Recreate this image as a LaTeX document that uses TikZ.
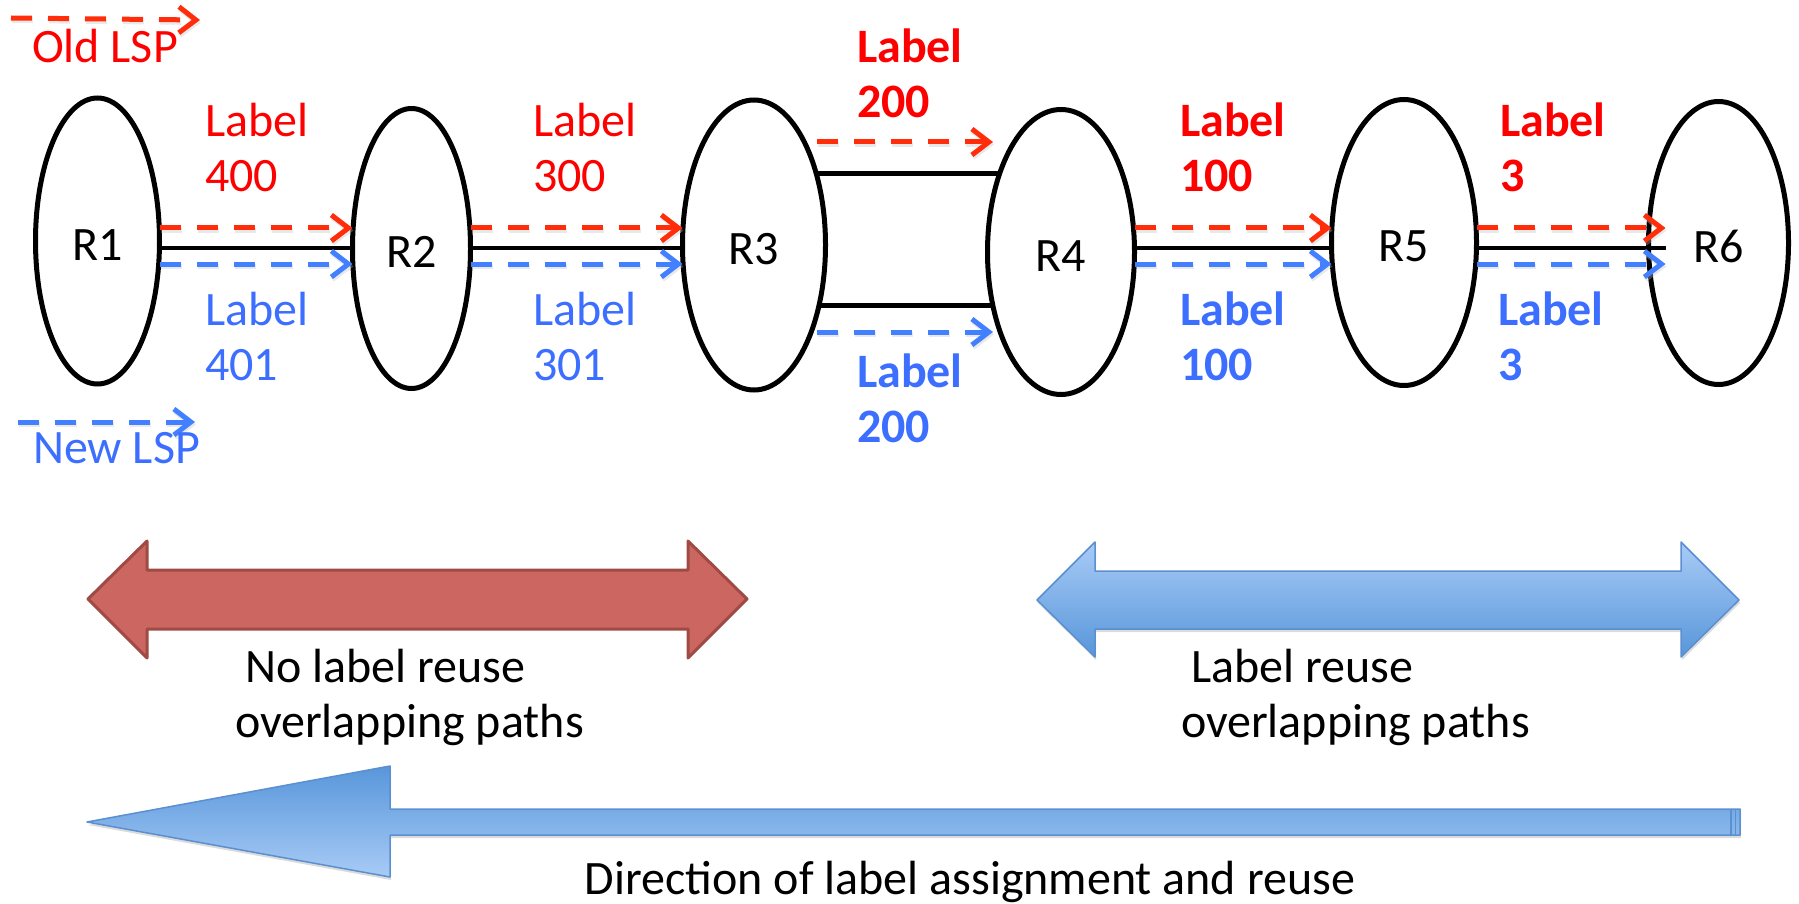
\documentclass[tikz,border=0pt]{standalone}
\usepackage{fontspec}
\setmainfont{Carlito}
\usetikzlibrary{arrows.meta,shapes.geometric,shadows}
\definecolor{dred}{RGB}{255,45,10}
\definecolor{dblue}{RGB}{66,128,255}
\definecolor{tred}{RGB}{255,0,0}
\definecolor{tblue}{RGB}{60,110,255}
\definecolor{arrred}{RGB}{204,102,96}
\definecolor{arrredb}{RGB}{160,74,69}
\definecolor{lightb}{RGB}{168,203,246}
\definecolor{darkb}{RGB}{88,150,218}
\definecolor{bordb}{RGB}{90,143,208}
\newcommand{\twoline}[2]{\begin{tabular}[t]{@{}l@{}}#1\\#2\end{tabular}}
\begin{document}
\begin{tikzpicture}[x=1pt,y=-1pt,
  font=\fontsize{48}{55}\selectfont,
  router/.style={draw, ellipse, line width=5pt, inner sep=0pt, outer sep=0pt, text height=38pt, text depth=0pt},
  lsp/.style={line width=5pt, dash pattern=on 21pt off 16pt, -{Straight Barb[length=17pt,width=26pt]},
     preaction={draw=black!25, opacity=0.35, line width=5pt, dash pattern=on 21pt off 16pt, transform canvas={yshift=-2.5pt, xshift=1pt}}},
  lspred/.style={lsp, draw=dred},
  lspblue/.style={lsp, draw=dblue},
  linkline/.style={draw=black, line width=4.5pt},
  lbl/.style={anchor=base west, inner sep=0pt, outer sep=0pt},
  boldlbl/.style={lbl, font=\fontsize{48}{55}\selectfont\bfseries},
  bigred/.style={fill=arrred, draw=arrredb, line width=3pt, line join=round},
  bigblue/.style={draw=bordb, line width=1.5pt, line join=round,
     drop shadow={shadow xshift=1pt, shadow yshift=-3pt, opacity=0.35, fill=black!40}}]
\useasboundingbox (0,0) rectangle (1799,904);

% routers
\node[router, minimum width=124pt, minimum height=286pt] (R1) at (97.5,241) {R1};
\node[router, minimum width=118pt, minimum height=280pt] (R2) at (411.5,248.5) {R2};
\node[router, minimum width=143pt, minimum height=290pt] (R3) at (754,245) {R3};
\node[router, minimum width=147pt, minimum height=285pt] (R4) at (1061,252) {R4};
\node[router, minimum width=145pt, minimum height=286pt] (R5) at (1404,242.5) {R5};
\node[router, minimum width=140pt, minimum height=283pt] (R6) at (1718.5,243) {R6};

% R1 -> R2
\draw[lspred]  ([yshift=13]R1.east)  -- ([yshift=20.5]R2.west);
\draw[linkline]([yshift=-7]R1.east)  -- ([yshift=0.5]R2.west);
\draw[lspblue] ([yshift=-23]R1.east) -- ([yshift=-15.5]R2.west);
% R2 -> R3
\draw[lspred]  ([yshift=20.5]R2.east)  -- ([yshift=17]R3.west);
\draw[linkline]([yshift=0.5]R2.east)   -- ([yshift=-3]R3.west);
\draw[lspblue] ([yshift=-15.5]R2.east) -- ([yshift=-19]R3.west);
% R3 -> R4
\draw[linkline](R3.49.7)  -- (R3.49.7 -| R4.127.2);
\draw[linkline](R3.-43.2) -- (R3.-43.2 -| R4.218.5);
\draw[lspred]  ([xshift=-8.5,yshift=103]R3.east) -- ([xshift=5.5,yshift=110]R4.west);
\draw[lspblue] ([xshift=-8.5,yshift=-87]R3.east) -- ([xshift=5.5,yshift=-80]R4.west);
% R4 -> R5
\draw[lspred]  ([yshift=24]R4.east)  -- ([yshift=14.5]R5.west);
\draw[linkline]([yshift=4]R4.east)   -- ([yshift=-5.5]R5.west);
\draw[lspblue] ([yshift=-12]R4.east) -- ([yshift=-21.5]R5.west);
% R5 -> R6
\draw[lspred]  ([yshift=14.5]R5.east)  -- ([yshift=15,xshift=17]R6.west);
\draw[linkline]([yshift=-5.5]R5.east)  -- ([yshift=-5,xshift=17]R6.west);
\draw[lspblue] ([yshift=-21.5]R5.east) -- ([yshift=-21,xshift=17]R6.west);

% labels
\node[lbl, text=tred]  (l400) at (205,137) {\twoline{Label}{400}};
\node[lbl, text=tblue] (l401) at (205,325) {\twoline{Label}{401}};
\node[lbl, text=tred]  (l300) at (533,137) {\twoline{Label}{300}};
\node[lbl, text=tblue] (l301) at (533,325) {\twoline{Label}{301}};
\node[boldlbl, text=tred]  (l200r) at (857,63)  {\twoline{Label}{200}};
\node[boldlbl, text=tblue] (l200b) at (857,387) {\twoline{Label}{200}};
\node[boldlbl, text=tred]  (l100r) at (1180,137) {\twoline{Label}{100}};
\node[boldlbl, text=tblue] (l100b) at (1180,325) {\twoline{Label}{100}};
\node[boldlbl, text=tred]  (l3r) at (1500,137) {\twoline{Label}{3}};
\node[boldlbl, text=tblue] (l3b) at (1498,325) {\twoline{Label}{3}};

% legend
\coordinate (oldA) at (11,18);
\coordinate (oldB) at (200,20);
\draw[lspred] (oldA) -- (oldB);
\node[lbl, text=tred] (oldlsp) at (32,63) {Old LSP};
\coordinate (newA) at (18,422);
\coordinate (newB) at (195,422);
\draw[lspblue] (newA) -- (newB);
\node[lbl, text=tblue] (newlsp) at (33,463) {New LSP};

% big arrows
\path[bigred] (88,599) -- (147,541) -- (147,570) -- (688,570) -- (688,541) -- (747,599)
  -- (688,658) -- (688,629) -- (147,629) -- (147,658) -- cycle;
\path[bigblue, top color=lightb, bottom color=darkb] (1037,600) -- (1095,542) -- (1095,571) -- (1681,571)
  -- (1681,542) -- (1739,600) -- (1681,657) -- (1681,629) -- (1095,629) -- (1095,657) -- cycle;
\path[bigblue, top color=darkb, bottom color=lightb] (87,822) -- (390,766) -- (390,809) -- (1740,809)
  -- (1740,835) -- (390,835) -- (390,877) -- cycle;
\draw[bordb, line width=1.2pt] (1731,809) -- (1731,835) (1735.5,809) -- (1735.5,835);

\node[lbl] (t1a) at (245,682) {No label reuse};
\node[lbl] (t1b) at (235,737) {overlapping paths};
\node[lbl] (t2a) at (1191,682) {Label reuse};
\node[lbl] (t2b) at (1181,737) {overlapping paths};
\node[anchor=base, inner sep=0pt] (t3) at (970,894) {Direction of label assignment and reuse};
\end{tikzpicture}
\end{document}
